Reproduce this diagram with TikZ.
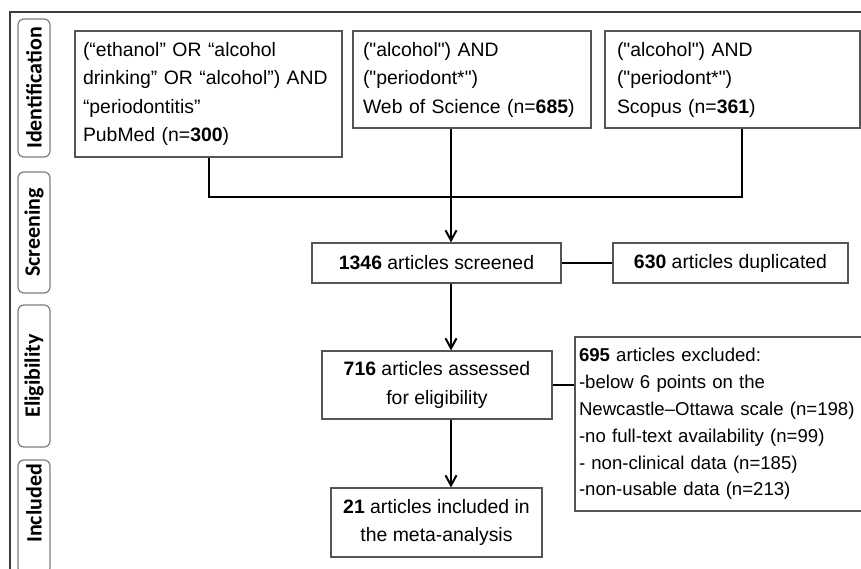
\documentclass[tikz,border=0pt]{standalone}
\usepackage{fontspec}
\setmainfont{Liberation Sans}[Ligatures=TeXOff]
\newfontfamily\tabfont{Carlito}
\usetikzlibrary{arrows.meta}
\definecolor{frame}{RGB}{60,60,60}
\definecolor{edge}{RGB}{85,85,85}
\definecolor{tabline}{RGB}{125,125,125}

\begin{document}
\begin{tikzpicture}[x=0.5pt,y=-0.5pt,
    box/.style={draw=edge,line width=0.6pt,inner sep=0pt,font=\fontsize{9.7}{14.25}\selectfont},
    tab/.style={draw=tabline,line width=0.6pt,rounded corners=3pt,rotate=90,minimum height=16pt,
      inner sep=2pt,font=\tabfont\bfseries\fontsize{11}{13}\selectfont},
    link/.style={line width=1pt},
    arr/.style={link,-{Straight Barb[length=5pt,width=5.5pt]}}]
  \useasboundingbox (0,0) rectangle (861,568);
  \clip (0,0) rectangle (861,568);
  % frame and stages
  \draw[frame,line width=0.8pt] (10,600) -- (10,12) -- (900,12);
  \node[tab,minimum width=69pt] (tid) at (34,88) {Identification};
  \node[tab,minimum width=60.5pt] (tscr) at (34,232.5) {Screening};
  \node[tab,minimum width=71pt] (telig) at (34,376) {Eligibility};
  \node[tab,minimum width=57pt,text width=53pt,align=right] (tincl) at (34,517) {Included};
  % searches
  \node[box,minimum width=133.5pt,minimum height=63pt,text width=125.5pt,align=left] (pubmed) at (208.5,94)
    {(“ethanol” OR “alcohol\\drinking” OR “alcohol”) AND\\“periodontitis”\\PubMed (n=\textbf{300})};
  \node[box,minimum width=119pt,minimum height=48.5pt,text width=109pt,align=left] (wos) at (472,79.5)
    {("alcohol") AND\\("periodont*")\\Web of Science (n=\textbf{685})};
  \node[box,minimum width=127.5pt,minimum height=48.5pt,text width=115.5pt,align=left] (scopus) at (732.5,79.5)
    {("alcohol") AND\\("periodont*")\\Scopus (n=\textbf{361})};
  % screening and selection
  \node[box,minimum width=124.5pt,minimum height=20pt] (screened) at (436.5,263) {\textbf{1346} articles screened};
  \node[box,minimum width=117.5pt,minimum height=20pt] (dup) at (730.5,263) {\textbf{630} articles duplicated};
  \node[box,minimum width=115pt,minimum height=34pt,align=center] (assessed) at (437,385)
    {\textbf{716} articles assessed\\for eligibility};
  \node[box,minimum width=150pt,minimum height=87pt,text width=146pt,align=left,
    font=\fontsize{9.3}{13.4}\selectfont] (excluded) at (725,424)
    {\textbf{695} articles excluded:\\-below 6 points on the\\Newcastle–Ottawa scale (n=198)\\-no full-text availability (n=99)\\- non-clinical data (n=185)\\-non-usable data (n=213)};
  \node[box,minimum width=105.5pt,minimum height=34.5pt,align=center] (included) at (436.5,522.5)
    {\textbf{21} articles included in\\the meta-analysis};
  % connectors
  \coordinate (join) at (451,197);
  \coordinate (sdrop) at (742,197);
  \draw[link] (pubmed.south) |- (join);
  \draw[link] (wos.south -| join) -- (join);
  \draw[link] (scopus.south -| sdrop) -- (sdrop) -- (join);
  \draw[arr] (join) -- (join |- screened.north);
  \draw[arr] (join |- screened.south) -- (join |- assessed.north);
  \draw[arr] (join |- assessed.south) -- (join |- included.north);
  \draw[link] (screened) -- (dup);
  \draw[link] (assessed.east) -- (assessed.east -| excluded.west);
\end{tikzpicture}
\end{document}
